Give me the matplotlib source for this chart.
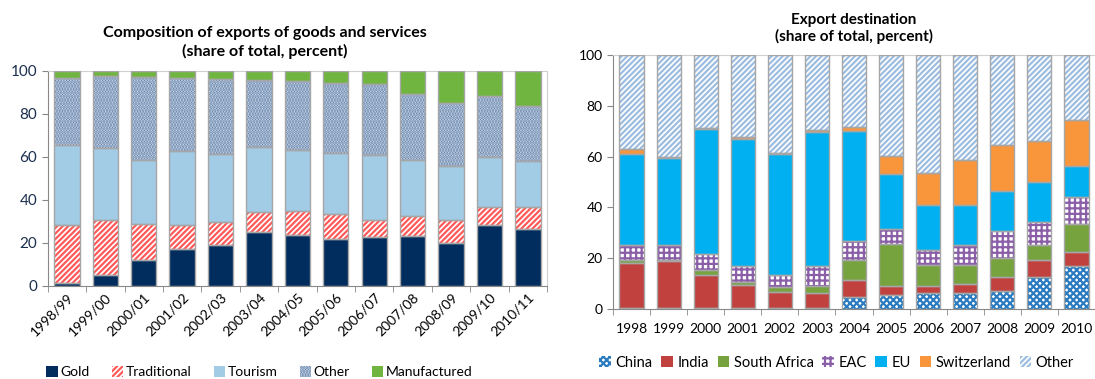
import matplotlib
matplotlib.use('Agg')
import matplotlib.pyplot as plt
import numpy as np
from matplotlib.patches import Patch

plt.rcParams['font.family'] = ['Lato', 'DejaVu Sans']
plt.rcParams['hatch.linewidth'] = 1.6

years_left = ['1998/99', '1999/00', '2000/01', '2001/02', '2002/03', '2003/04',
              '2004/05', '2005/06', '2006/07', '2007/08', '2008/09', '2009/10', '2010/11']
gold = [1.5, 5.1, 11.9, 17.3, 19.0, 25.3, 23.5, 21.8, 22.7, 23.3, 20.2, 28.2, 26.5]
traditional = [26.9, 25.8, 16.8, 10.9, 10.9, 9.3, 11.5, 11.8, 8.2, 9.1, 10.7, 8.5, 10.2]
tourism = [37.0, 33.1, 29.8, 34.8, 31.4, 29.9, 28.3, 28.1, 29.9, 26.1, 25.1, 23.5, 21.3]
other_left = [31.5, 33.5, 38.7, 33.6, 35.2, 31.5, 32.2, 32.7, 33.2, 30.7, 29.3, 28.2, 25.6]
manufactured = [3.1, 2.5, 2.8, 3.4, 3.5, 4.0, 4.5, 5.6, 6.0, 10.8, 14.7, 11.6, 16.4]

# right chart: export destination
years_right = ['1998', '1999', '2000', '2001', '2002', '2003', '2004',
               '2005', '2006', '2007', '2008', '2009', '2010']
china = [0.3, 0.3, 0.3, 0.3, 0.3, 0.3, 4.9, 5.4, 6.4, 6.4, 7.2, 12.7, 17.1]
india = [17.8, 18.4, 13.2, 9.2, 6.4, 6.1, 6.7, 3.8, 2.8, 3.3, 5.4, 6.4, 5.5]
south_africa = [1.2, 0.6, 1.7, 1.3, 1.8, 2.8, 7.8, 16.2, 8.1, 7.6, 7.6, 5.9, 10.9]
eac = [5.8, 5.8, 6.5, 6.2, 4.9, 7.8, 7.3, 6.1, 6.1, 7.7, 10.7, 9.3, 10.5]
eu = [36.0, 34.2, 49.0, 50.0, 47.8, 52.5, 43.2, 21.7, 17.7, 15.8, 15.5, 15.6, 12.4]
switzerland = [2.0, 0.5, 0.4, 0.7, 0.4, 0.8, 1.8, 6.9, 12.3, 17.7, 18.0, 16.1, 18.1]
other_right = [36.9, 40.2, 28.9, 32.3, 38.4, 29.7, 28.3, 39.9, 46.6, 41.5, 35.6, 34.0, 25.5]

EDGE = '#a6a6a6'

LEFT_SERIES = [
    ('Gold', gold, '#002d5e', None, '#002d5e'),
    ('Traditional', traditional, 'white', '//////', '#ff5a5a'),
    ('Tourism', tourism, '#a2cbe6', None, '#a2cbe6'),
    ('Other', other_left, '#e4ecf4', '......', '#5a7aa6'),
    ('Manufactured', manufactured, '#6fb540', None, '#6fb540'),
]

RIGHT_SERIES = [
    ('China', china, 'white', 'xxxxx', '#2a7bbf'),
    ('India', india, '#c0413e', None, '#c0413e'),
    ('South Africa', south_africa, '#77a33f', None, '#77a33f'),
    ('EAC', eac, 'white', '+++', '#8a5fa8'),
    ('EU', eu, '#00b0f0', None, '#00b0f0'),
    ('Switzerland', switzerland, '#f9963c', None, '#f9963c'),
    ('Other', other_right, 'white', '//////', '#9dbde0'),
]


def draw_stack(ax, labels, series, width):
    x = np.arange(len(labels))
    bottom = np.zeros(len(labels))
    handles = []
    for name, values, face, hatch, hcolor in series:
        values = np.array(values)
        ax.bar(x, values, width, bottom=bottom, color=face, hatch=hatch,
               edgecolor=hcolor, linewidth=0, zorder=2)
        ax.bar(x, values, width, bottom=bottom, fill=False,
               edgecolor=EDGE, linewidth=1.0, zorder=3)
        bottom += values
        handles.append(Patch(facecolor=face, hatch=hatch, edgecolor=hcolor,
                             linewidth=0))
    ax.set_xlim(-0.5, len(labels) - 0.5)
    ax.set_ylim(0, 100)
    ax.set_yticks(np.arange(0, 101, 20))
    ax.set_xticks(np.arange(len(labels) + 1) - 0.5, minor=True)
    ax.set_xticks(x)
    ax.tick_params(axis='x', which='major', length=0)
    ax.tick_params(axis='x', which='minor', length=4, color='#888888')
    ax.tick_params(axis='y', length=4, color='#888888')
    for side in ['left', 'bottom']:
        ax.spines[side].set_color('#888888')
    return handles


fig = plt.figure(figsize=(10.95, 3.79), dpi=100)

ax1 = fig.add_axes([0.0436, 0.2454, 0.456, 0.5673])
h1 = draw_stack(ax1, years_left, LEFT_SERIES, 0.66)
ax1.set_xticklabels(years_left, rotation=45, ha='right', rotation_mode='anchor',
                    fontsize=10)
ax1.tick_params(axis='y', labelsize=11, labelcolor='#1b2f4f')
for side in ['top', 'right']:
    ax1.spines[side].set_color('#d0d0d0')
# the title sits left of the axes centre in the original
fig.text(0.242, 0.845,
         'Composition of exports of goods and services\n(share of total, percent)',
         ha='center', va='bottom', fontsize=11.5, fontweight='bold',
         linespacing=1.3)
fig.legend(h1, [s[0] for s in LEFT_SERIES], loc='center',
           bbox_to_anchor=(0.237, 0.018), ncol=5, frameon=False, fontsize=10,
           handlelength=0.8, handleheight=0.8, handletextpad=0.2,
           columnspacing=1.6)

ax2 = fig.add_axes([0.5598, 0.1847, 0.4402, 0.6702])
h2 = draw_stack(ax2, years_right, RIGHT_SERIES, 0.65)
ax2.set_xticklabels(years_right, fontsize=10)
ax2.tick_params(axis='x', which='major', pad=10)
ax2.tick_params(axis='y', labelsize=10)
ax2.spines['top'].set_color('#d0d0d0')
ax2.spines['right'].set_visible(False)
ax2.set_title('Export destination\n(share of total, percent)',
              fontsize=11, fontweight='bold', pad=10)
fig.legend(h2, [s[0] for s in RIGHT_SERIES], loc='center',
           bbox_to_anchor=(0.764, 0.043), ncol=7, frameon=False, fontsize=10.5,
           handlelength=0.8, handleheight=0.8, handletextpad=0.3,
           columnspacing=0.6)

fig.savefig('out.png', dpi=100)
